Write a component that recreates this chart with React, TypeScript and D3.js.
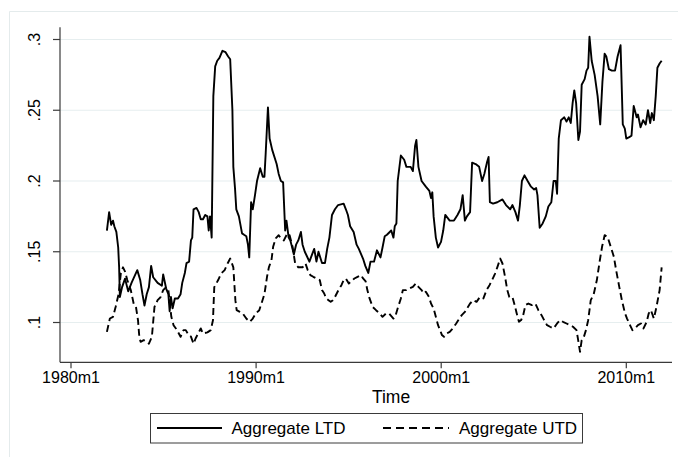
import React from "react";
import * as d3 from "d3";

const ltdYear = [1981.94,1982.06,1982.17,1982.27,1982.34,1982.45,1982.55,1982.6,1982.64,1982.76,1982.92,1983.09,1983.27,1983.58,1983.74,1983.86,1983.97,1984.09,1984.21,1984.33,1984.44,1984.68,1984.91,1984.98,1985.14,1985.26,1985.33,1985.4,1985.49,1985.61,1985.78,1985.92,1986.01,1986.15,1986.24,1986.38,1986.48,1986.55,1986.62,1986.78,1986.9,1987.01,1987.13,1987.25,1987.37,1987.44,1987.51,1987.6,1987.69,1987.79,1987.9,1988.02,1988.18,1988.35,1988.49,1988.6,1988.72,1988.77,1988.86,1988.93,1989.07,1989.14,1989.24,1989.35,1989.47,1989.56,1989.63,1989.73,1989.82,1989.94,1990.05,1990.22,1990.36,1990.45,1990.52,1990.64,1990.73,1990.87,1991.11,1991.22,1991.34,1991.46,1991.57,1991.64,1991.76,1991.85,1991.95,1992.04,1992.16,1992.28,1992.42,1992.51,1992.63,1992.74,1992.88,1993.02,1993.14,1993.26,1993.37,1993.56,1993.72,1993.84,1993.96,1994.1,1994.26,1994.43,1994.73,1994.85,1994.96,1995.08,1995.27,1995.43,1995.55,1995.78,1995.9,1996.06,1996.18,1996.37,1996.53,1996.72,1996.83,1996.95,1997.07,1997.3,1997.42,1997.49,1997.58,1997.65,1997.82,1998.0,1998.12,1998.35,1998.47,1998.59,1998.66,1998.77,1998.94,1999.17,1999.36,1999.45,1999.52,1999.59,1999.71,1999.83,1999.99,2000.11,2000.22,2000.46,2000.69,2000.88,2001.04,2001.16,2001.28,2001.39,2001.56,2001.67,2001.86,2002.05,2002.21,2002.33,2002.47,2002.56,2002.63,2002.8,2003.03,2003.31,2003.5,2003.73,2003.85,2004.01,2004.15,2004.25,2004.36,2004.5,2004.67,2004.85,2005.02,2005.13,2005.2,2005.32,2005.48,2005.65,2005.79,2005.95,2006.07,2006.19,2006.26,2006.35,2006.47,2006.65,2006.77,2006.89,2007.0,2007.1,2007.19,2007.29,2007.41,2007.5,2007.59,2007.75,2007.85,2007.94,2008.01,2008.13,2008.29,2008.45,2008.59,2008.71,2008.83,2008.92,2009.06,2009.22,2009.39,2009.53,2009.69,2009.81,2009.92,2010.0,2010.16,2010.28,2010.4,2010.56,2010.63,2010.77,2010.91,2011.05,2011.17,2011.29,2011.38,2011.49,2011.59,2011.68,2011.8,2011.91];
const ltdValue = [0.165,0.178,0.169,0.172,0.168,0.164,0.153,0.139,0.118,0.125,0.131,0.122,0.128,0.137,0.130,0.120,0.112,0.120,0.125,0.140,0.132,0.128,0.126,0.134,0.124,0.120,0.108,0.118,0.110,0.117,0.117,0.120,0.128,0.135,0.142,0.143,0.158,0.160,0.180,0.181,0.178,0.173,0.173,0.176,0.175,0.165,0.175,0.160,0.26,0.281,0.285,0.287,0.292,0.291,0.288,0.286,0.25,0.21,0.195,0.18,0.175,0.170,0.163,0.162,0.161,0.155,0.146,0.185,0.180,0.190,0.200,0.209,0.203,0.203,0.220,0.252,0.230,0.222,0.212,0.205,0.200,0.199,0.165,0.172,0.160,0.158,0.153,0.148,0.155,0.158,0.164,0.155,0.150,0.147,0.143,0.148,0.152,0.143,0.150,0.142,0.142,0.152,0.160,0.176,0.180,0.183,0.184,0.180,0.176,0.168,0.164,0.155,0.152,0.145,0.140,0.135,0.143,0.143,0.151,0.146,0.153,0.161,0.162,0.165,0.160,0.168,0.170,0.200,0.218,0.215,0.210,0.210,0.207,0.225,0.229,0.210,0.200,0.196,0.193,0.188,0.192,0.175,0.160,0.153,0.157,0.165,0.176,0.172,0.172,0.176,0.180,0.190,0.172,0.175,0.178,0.213,0.212,0.210,0.200,0.205,0.213,0.217,0.185,0.184,0.185,0.187,0.183,0.180,0.183,0.178,0.172,0.183,0.200,0.204,0.200,0.196,0.194,0.195,0.190,0.167,0.170,0.175,0.182,0.185,0.200,0.200,0.191,0.230,0.243,0.245,0.242,0.245,0.241,0.255,0.264,0.255,0.229,0.235,0.268,0.272,0.278,0.280,0.302,0.285,0.275,0.260,0.240,0.270,0.290,0.288,0.279,0.278,0.278,0.288,0.296,0.240,0.237,0.230,0.231,0.232,0.253,0.245,0.247,0.238,0.243,0.240,0.250,0.241,0.248,0.243,0.260,0.280,0.283,0.285];

const utdYear = [1981.94,1982.10,1982.27,1982.41,1982.57,1982.69,1982.81,1982.92,1983.04,1983.23,1983.39,1983.51,1983.62,1983.69,1983.76,1983.93,1984.09,1984.21,1984.37,1984.51,1984.68,1984.84,1984.98,1985.14,1985.26,1985.42,1985.54,1985.73,1985.92,1986.08,1986.2,1986.36,1986.48,1986.62,1986.73,1986.9,1987.01,1987.13,1987.37,1987.55,1987.67,1987.74,1987.95,1988.11,1988.3,1988.46,1988.6,1988.77,1988.88,1988.95,1989.12,1989.28,1989.47,1989.66,1989.82,1989.98,1990.17,1990.29,1990.45,1990.59,1990.69,1990.83,1990.92,1991.06,1991.22,1991.34,1991.5,1991.69,1991.81,1991.97,1992.11,1992.28,1992.51,1992.67,1992.79,1992.93,1993.09,1993.26,1993.44,1993.56,1993.68,1993.79,1993.91,1994.03,1994.15,1994.26,1994.45,1994.61,1994.73,1994.85,1995.01,1995.13,1995.31,1995.48,1995.67,1995.78,1995.92,1996.01,1996.13,1996.3,1996.48,1996.67,1996.83,1997.02,1997.18,1997.42,1997.54,1997.65,1997.82,1997.93,1998.12,1998.28,1998.47,1998.63,1998.77,1998.94,1999.06,1999.17,1999.34,1999.45,1999.59,1999.71,1999.83,1999.94,2000.04,2000.15,2000.29,2000.46,2000.62,2000.81,2000.93,2001.11,2001.28,2001.39,2001.56,2001.74,2001.91,2002.09,2002.28,2002.45,2002.61,2002.75,2002.91,2003.03,2003.19,2003.31,2003.45,2003.57,2003.68,2003.85,2003.97,2004.08,2004.2,2004.32,2004.43,2004.55,2004.71,2004.9,2005.09,2005.25,2005.42,2005.56,2005.72,2005.88,2006.07,2006.26,2006.42,2006.58,2006.77,2006.96,2007.12,2007.31,2007.4,2007.5,2007.59,2007.71,2007.82,2007.94,2008.08,2008.24,2008.41,2008.57,2008.69,2008.83,2008.99,2009.16,2009.33,2009.45,2009.62,2009.76,2009.93,2010.04,2010.16,2010.33,2010.47,2010.63,2010.79,2010.93,2011.1,2011.21,2011.33,2011.49,2011.63,2011.8,2011.91];
const utdValue = [0.0934,0.1028,0.104,0.111,0.12,0.1346,0.139,0.136,0.13,0.123,0.113,0.111,0.1016,0.09,0.0863,0.0875,0.0863,0.085,0.09,0.111,0.1158,0.118,0.1229,0.125,0.123,0.104,0.0981,0.0946,0.0899,0.0946,0.0946,0.091,0.09,0.085,0.0887,0.093,0.0958,0.0922,0.093,0.0946,0.1016,0.125,0.13,0.1346,0.137,0.1417,0.1452,0.139,0.1158,0.1087,0.1075,0.1064,0.1028,0.1005,0.1028,0.1064,0.1087,0.1134,0.12,0.1323,0.139,0.144,0.1535,0.1594,0.1617,0.1594,0.158,0.163,0.1617,0.1535,0.1417,0.139,0.139,0.1417,0.137,0.1335,0.1323,0.1311,0.13,0.1229,0.1205,0.117,0.1158,0.1146,0.1158,0.118,0.1229,0.1264,0.13,0.1311,0.1276,0.129,0.1311,0.1323,0.1335,0.1311,0.129,0.1229,0.117,0.111,0.1087,0.1064,0.104,0.1064,0.1064,0.1028,0.1052,0.11,0.117,0.1229,0.1229,0.124,0.1252,0.1276,0.1252,0.1229,0.1205,0.1217,0.118,0.1134,0.1099,0.104,0.0981,0.0946,0.0911,0.0899,0.0922,0.0934,0.0958,0.0993,0.1017,0.1052,0.1075,0.1099,0.1134,0.1158,0.1146,0.118,0.117,0.1229,0.1264,0.13,0.1346,0.139,0.1452,0.1417,0.1323,0.1229,0.118,0.118,0.1123,0.1064,0.1005,0.1017,0.1052,0.1123,0.1134,0.1123,0.1134,0.1087,0.1052,0.1017,0.0981,0.097,0.0958,0.0993,0.1017,0.1005,0.0993,0.0981,0.097,0.0946,0.0875,0.0793,0.0875,0.0899,0.0946,0.1016,0.1158,0.12,0.13,0.144,0.1535,0.1617,0.1605,0.1535,0.1464,0.137,0.1252,0.1158,0.1064,0.1028,0.0993,0.0946,0.0958,0.0981,0.0993,0.0958,0.1005,0.1064,0.1087,0.1028,0.111,0.1229,0.139];

const yTicks = [0.1, 0.15, 0.2, 0.25, 0.3];
const yTickLabels = [".1", ".15", ".2", ".25", ".3"];
const xTicks = [1980, 1990, 2000, 2010];
const xTickLabels = ["1980m1", "1990m1", "2000m1", "2010m1"];
const seriesNames = ["Aggregate LTD", "Aggregate UTD"];
const xTitle = "Time";

const FONT = "Arial, 'Liberation Sans', Helvetica, sans-serif";

export default function App() {
  const left = 60, right = 672, top = 27.3, bottom = 362.3;
  const x = d3.scaleLinear().domain([1980, 2010]).range([71, 626.3]);
  const y = d3.scaleLinear().domain([0.1, 0.3]).range([322.5, 39.5]);

  const line = d3.line<[number, number]>().x(d => x(d[0])).y(d => y(d[1])).curve(d3.curveLinear);
  const ltd = ltdYear.map((t, i) => [t, ltdValue[i]] as [number, number]);
  const utd = utdYear.map((t, i) => [t, utdValue[i]] as [number, number]);

  const gridColor = "#e6eeef";
  const axisColor = "#3a3a3a";

  return (
    <svg width={678} height={457} style={{ position: "absolute", left: 0, top: 0, background: "#fff" }}>
      <rect x={0} y={0} width={678} height={457} fill="#fff" />
      <path d={`M9.5,457 L9.5,11.5 L678,11.5`} fill="none" stroke="#e4ebec" strokeWidth={1} />
      {yTicks.map((t, i) => (
        <line key={"g" + i} x1={left} x2={right} y1={y(t)} y2={y(t)} stroke={gridColor} strokeWidth={1.2} />
      ))}
      <path d={line(utd) || ""} fill="none" stroke="#000" strokeWidth={1.9} strokeDasharray="7,4" strokeLinejoin="round" />
      <path d={line(ltd) || ""} fill="none" stroke="#000" strokeWidth={1.9} strokeLinejoin="round" />
      <line x1={left} x2={left} y1={top} y2={bottom} stroke={axisColor} strokeWidth={1.2} />
      <line x1={left} x2={right} y1={bottom} y2={bottom} stroke={axisColor} strokeWidth={1.2} />
      {yTicks.map((t, i) => (
        <g key={"yt" + i}>
          <line x1={left - 7} x2={left} y1={y(t)} y2={y(t)} stroke={axisColor} strokeWidth={1.2} />
          <text
            transform={`translate(${40},${y(t)}) rotate(-90)`}
            textAnchor="middle"
            fontFamily={FONT}
            fontSize={16}
            fill="#000"
          >
            {yTickLabels[i]}
          </text>
        </g>
      ))}
      {xTicks.map((t, i) => (
        <g key={"xt" + i}>
          <line x1={x(t)} x2={x(t)} y1={bottom} y2={bottom + 6} stroke={axisColor} strokeWidth={1.2} />
          <text x={x(t)} y={382.5} textAnchor="middle" fontFamily={FONT} fontSize={16} fill="#000">
            {xTickLabels[i]}
          </text>
        </g>
      ))}
      <text x={391} y={403} textAnchor="middle" fontFamily={FONT} fontSize={17.5} fill="#000">
        {xTitle}
      </text>
      <rect x={150.5} y={413.5} width={432} height={29.5} fill="#fff" stroke="#3a3a3a" strokeWidth={1} />
      <line x1={157} x2={222} y1={428} y2={428} stroke="#000" strokeWidth={1.9} />
      <text x={231.5} y={434} fontFamily={FONT} fontSize={17} fill="#000">{seriesNames[0]}</text>
      <line x1={383} x2={449} y1={428} y2={428} stroke="#000" strokeWidth={1.9} strokeDasharray="8,5" />
      <text x={459} y={434} fontFamily={FONT} fontSize={17} fill="#000">{seriesNames[1]}</text>
    </svg>
  );
}
